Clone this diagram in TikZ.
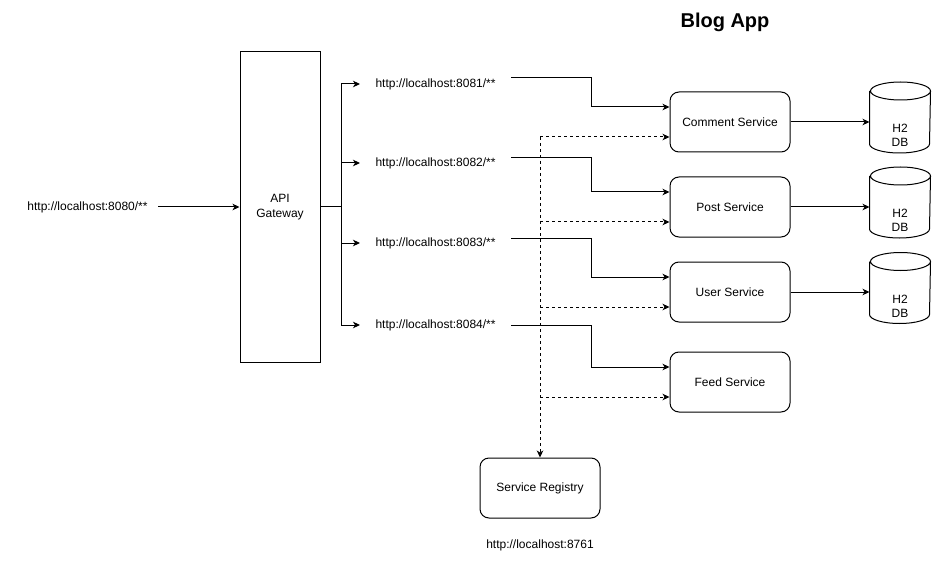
\documentclass[tikz,border=0pt]{standalone}
\usepackage{fontspec}
\setmainfont{Liberation Sans}
\usetikzlibrary{arrows.meta,calc}
\begin{document}
\begin{tikzpicture}[x=1pt,y=-1pt,line width=1pt,
  every node/.style={font=\fontsize{12}{14.4}\selectfont},
  arr/.style={-{Stealth[length=7pt,width=6.5pt,inset=2pt]}},
  dsh/.style={dash pattern=on 3pt off 3pt},
  svc/.style={draw, rounded corners=9pt, minimum width=120pt, minimum height=60pt, inner sep=0pt},
  gwbox/.style={draw, minimum width=80pt, minimum height=310pt, inner sep=0pt, align=center},
  url/.style={inner xsep=15pt, inner ysep=2pt, anchor=west},
  dbbox/.style={minimum width=60pt, minimum height=70pt, inner sep=0pt},
  dbtext/.style={label={[align=center,yshift=-18pt,font=\fontsize{12}{14}\selectfont]center:{H2\\DB}}}]
\fill[white] (0,0) rectangle (941,569);
\useasboundingbox (0,0) rectangle (941,569);

% title
\node[font=\bfseries\fontsize{20}{24}\selectfont] (title) at (725,22) {Blog App};

% input and gateway
\node[inner xsep=10pt] (in) at (87.5,207) {http://localhost:8080/**};
\node[gwbox] (gw) at (280,207) {API\\Gateway};
\draw[arr] (in.east) -- (gw.west);

% url labels
\node[url] (l1) at (360,84) {http://localhost:8081/**};
\node[url] (l2) at (360,163) {http://localhost:8082/**};
\node[url] (l3) at (360,243) {http://localhost:8083/**};
\node[url] (l4) at (360,325) {http://localhost:8084/**};

\draw (gw.east) -- ++(21,0) coordinate (tr);
\draw[arr] (tr) |- (l1.west);
\draw[arr] (tr) |- (l2.west);
\draw[arr] (tr) |- (l3.west);
\draw[arr] (tr) |- (l4.west);

% services
\node[svc] (cs) at (730,122) {Comment Service};
\node[svc] (ps) at (730,207) {Post Service};
\node[svc] (us) at (730,292) {User Service};
\node[svc] (fs) at (730,382) {Feed Service};
\node[svc] (sr) at (540,488) {Service Registry};
\node (srurl) at (540,545) {http://localhost:8761};

\draw[arr] ([yshift=6pt]l1.east) -- ++(80,0) |- ([yshift=15pt]cs.west);
\draw[arr] ([yshift=5pt]l2.east) -- ++(80,0) |- ([yshift=15pt]ps.west);
\draw[arr] ([yshift=5pt]l3.east) -- ++(80,0) |- ([yshift=15pt]us.west);
\draw[arr] (l4.east) -- ++(80,0) |- ([yshift=15pt]fs.west);

% registry dashed links
\coordinate (d1) at ([yshift=-15pt]cs.west);
\coordinate (d2) at ([yshift=-15pt]ps.west);
\coordinate (d3) at ([yshift=-15pt]us.west);
\coordinate (d4) at ([yshift=-15pt]fs.west);
\draw[dsh,arr] (sr.north |- d1) -- (sr.north);
\draw[dsh,arr] (sr.north |- d1) -- (d1);
\draw[dsh,arr] (sr.north |- d2) -- (d2);
\draw[dsh,arr] (sr.north |- d3) -- (d3);
\draw[dsh,arr] (sr.north |- d4) -- (d4);

% databases
\node[dbbox,dbtext] (db1) at (900,117.5) {};
\node[dbbox,dbtext] (db2) at (900,202.5) {};
\node[dbbox,dbtext] (db3) at (900,288) {};
\foreach \d in {db1,db2,db3}{
  \draw ([yshift=-9pt]\d.north west) -- ([yshift=9pt]\d.south west)
    arc[start angle=180,end angle=360,x radius=30pt,y radius=9pt]
    -- ([yshift=-9pt]\d.north east)
    arc[start angle=0,end angle=360,x radius=30pt,y radius=9pt];
}
\draw[arr] (cs.east) -- (cs.east -| db1.west);
\draw[arr] (ps.east) -- (ps.east -| db2.west);
\draw[arr] (us.east) -- (us.east -| db3.west);
\end{tikzpicture}
\end{document}
